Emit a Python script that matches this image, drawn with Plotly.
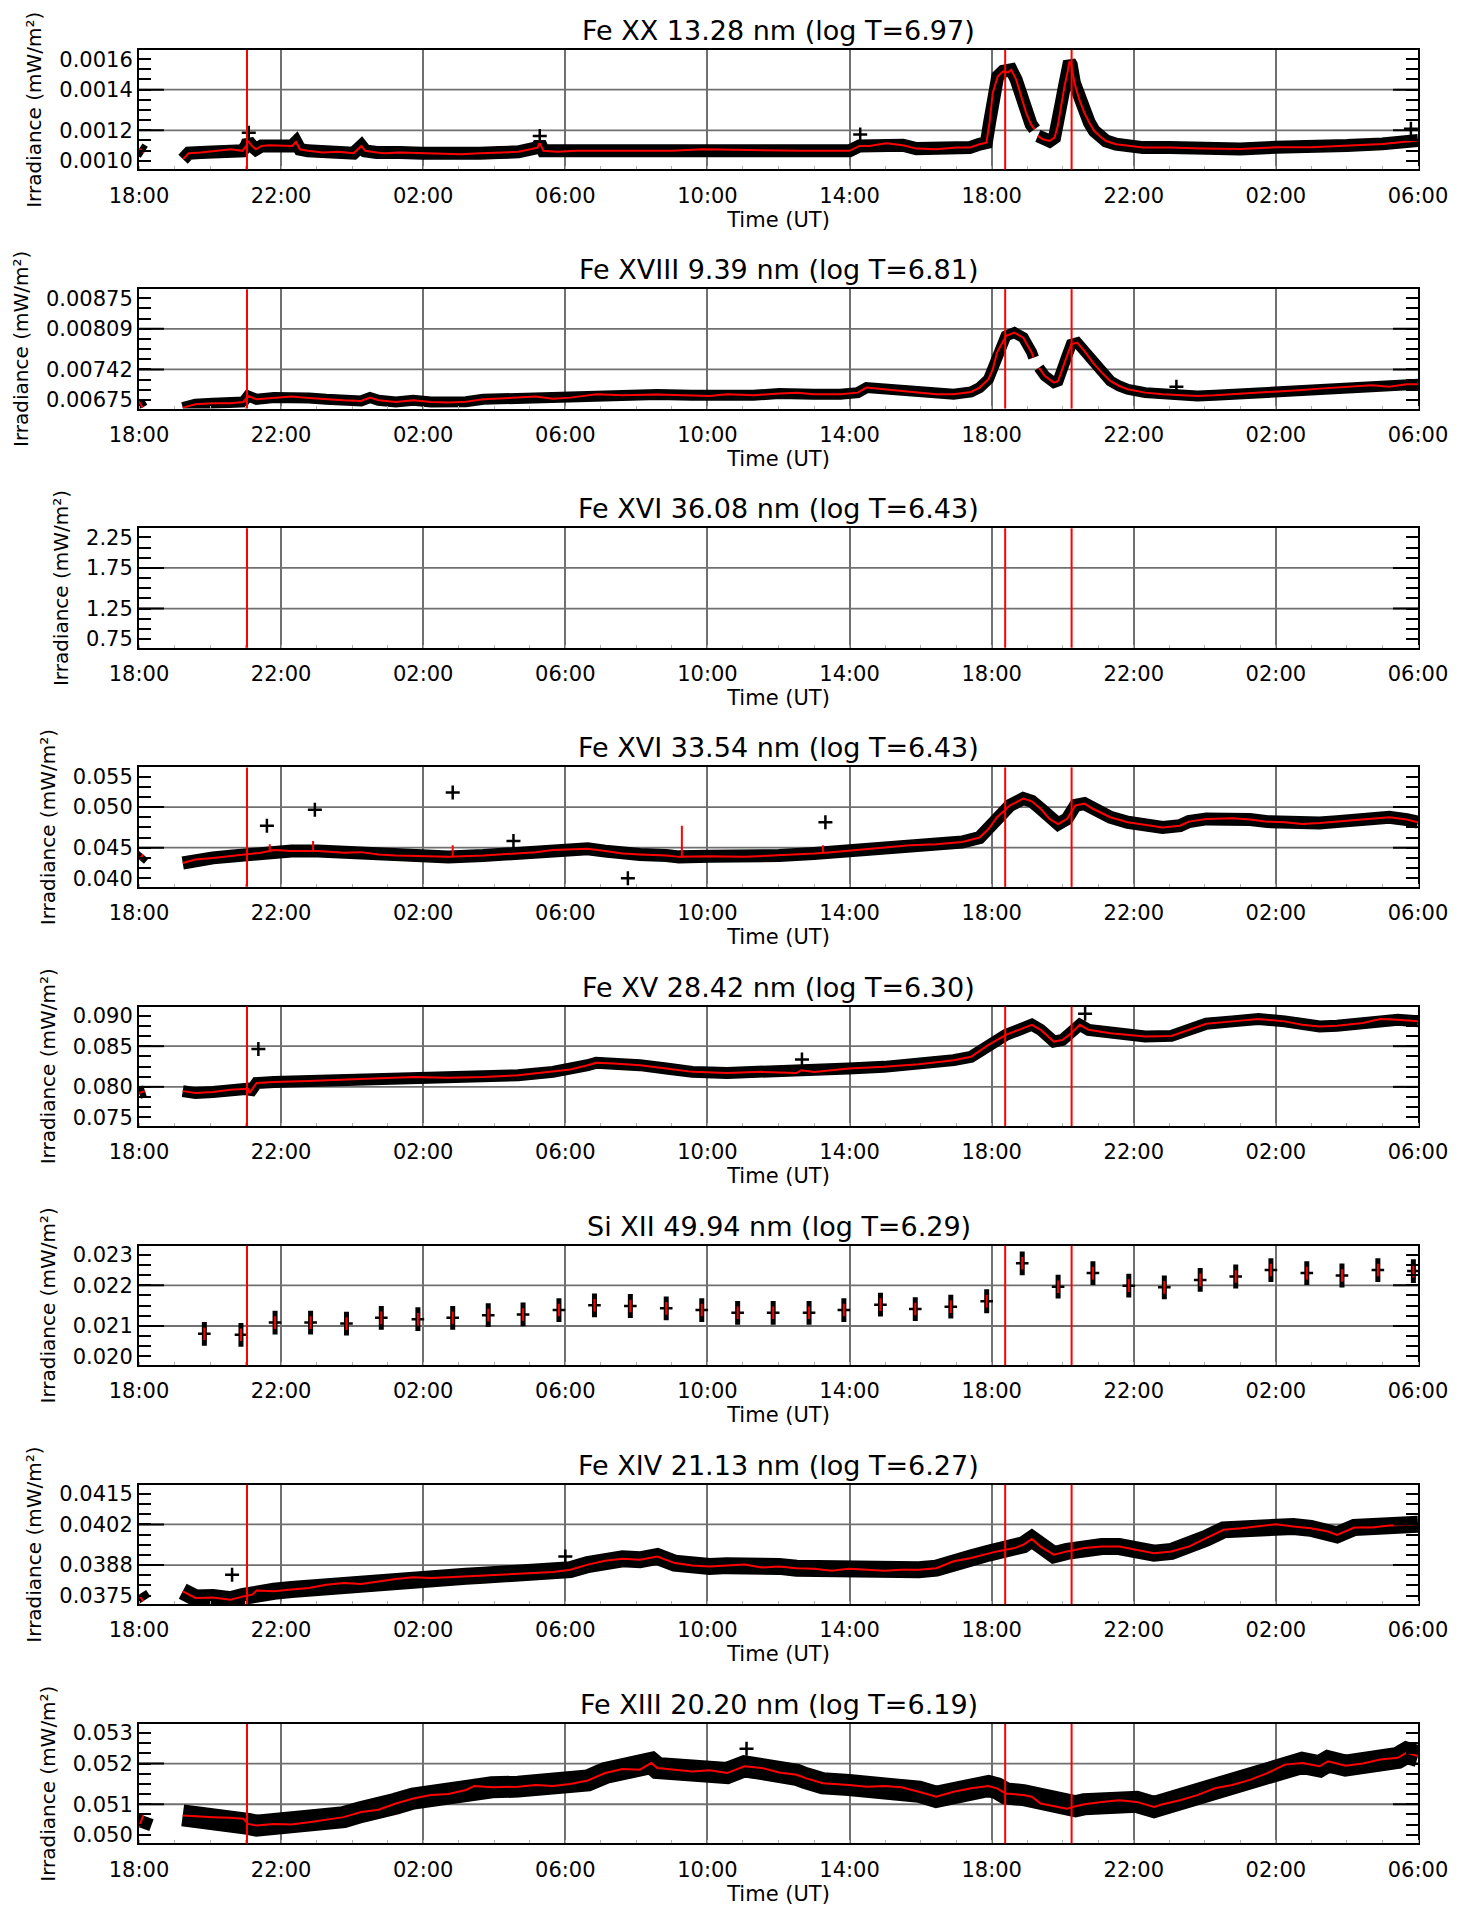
import plotly.graph_objects as go

# ---------------- axis labels / annotations ----------------
time_tickvals = [0, 4, 8, 12, 16, 20, 24, 28, 32, 36]          # hours since 18:00 UT (day 1)
time_ticktext = ["18:00", "22:00", "02:00", "06:00", "10:00",
                 "14:00", "18:00", "22:00", "02:00", "06:00"]
event_times = [3.04, 24.38, 26.25]                              # red vertical markers (hours)

panel_titles = [
    "Fe XX 13.28 nm (log T=6.97)",
    "Fe XVIII 9.39 nm (log T=6.81)",
    "Fe XVI 36.08 nm (log T=6.43)",
    "Fe XVI 33.54 nm (log T=6.43)",
    "Fe XV 28.42 nm (log T=6.30)",
    "Si XII 49.94 nm (log T=6.29)",
    "Fe XIV 21.13 nm (log T=6.27)",
    "Fe XIII 20.20 nm (log T=6.19)",
]
ytick_text = [
    ["0.0010", "0.0012", "0.0014", "0.0016"],
    ["0.00675", "0.00742", "0.00809", "0.00875"],
    ["0.75", "1.25", "1.75", "2.25"],
    ["0.040", "0.045", "0.050", "0.055"],
    ["0.075", "0.080", "0.085", "0.090"],
    ["0.020", "0.021", "0.022", "0.023"],
    ["0.0375", "0.0388", "0.0402", "0.0415"],
    ["0.050", "0.051", "0.052", "0.053"],
]
y_title = "Irradiance (mW/m²)"
x_title = "Time (UT)"

# ---------------- data (hours since 18:00, irradiance mW/m^2) ----------------
# Fe XX 13.28 nm
fexx_t = [0.0, 0.15, None,
          1.24, 1.40, 1.73, 2.16, 2.59, 2.91, 3.02, 3.07, 3.18, 3.29, 3.45, 3.67, 3.99, 4.31, 4.42, 4.53,
          4.75, 5.18, 5.61, 6.04, 6.26, 6.37, 6.69, 6.91, 7.34, 7.98, 8.52, 9.06, 9.60, 10.14, 10.68,
          11.22, 11.28, 11.38, 11.76, 12.30, 13.03, 14.0, 15.0, 15.87, 16.81, 17.75, 18.69, 19.62,
          20.0, 20.28, 20.56, 21.03, 21.5, 21.88, 22.44, 23.0, 23.38, 23.66, 23.85, 23.94, 24.03,
          24.17, 24.32, 24.46, 24.55, 24.69, 24.83, 24.97, 25.11, 25.21, None,
          25.30, 25.44, 25.63, 25.77, 25.86, 25.96, 26.05, 26.14, 26.19, 26.24, 26.33, 26.47, 26.61,
          26.75, 26.89, 27.04, 27.22, 27.50, 27.88, 28.26, 29.01, 29.94, 31.0, 32.0, 33.0, 34.0,
          35.0, 36.0]
fexx_v = [0.00107, 0.00105, None,
          0.00101, 0.001045, 0.001049, 0.001059, 0.001068, 0.001059, 0.001088, 0.001117, 0.001088,
          0.001068, 0.001088, 0.001092, 0.001088, 0.001088, 0.001111, 0.001068, 0.001059, 0.001049,
          0.001053, 0.001045, 0.001088, 0.001059, 0.001049, 0.001045, 0.001049, 0.001045, 0.001039,
          0.001039, 0.001045, 0.001049, 0.001053, 0.001078, 0.001107, 0.001059, 0.001053, 0.001059,
          0.001059, 0.00106, 0.00106, 0.001068, 0.001064, 0.001059, 0.001059, 0.001059, 0.001059,
          0.001088, 0.001088, 0.001104, 0.001092, 0.001072, 0.001068, 0.001078, 0.001078, 0.001098,
          0.001107, 0.001225, 0.001401, 0.001498, 0.001528, 0.001522, 0.001537, 0.001479, 0.001381,
          0.001283, 0.001215, 0.001186, None,
          0.001147, 0.001127, 0.001117, 0.001137, 0.001205, 0.001342, 0.00144, 0.001528, 0.001586,
          0.001567, 0.001459, 0.001361, 0.001283, 0.001225, 0.001176, 0.001147, 0.001117, 0.001098,
          0.001088, 0.001078, 0.001078, 0.001072, 0.00107, 0.00108, 0.00108, 0.00109, 0.00110, 0.00112]
fexx_out_t = [3.09, 11.28, 20.3, 35.8]
fexx_out_v = [0.001166, 0.001147, 0.001156, 0.00119]

# Fe XVIII 9.39 nm
fexviii_t = [0.0, 0.1, None,
             1.23, 1.59, 2.08, 2.57, 2.94, 3.07, 3.31, 3.80, 4.29, 4.78, 5.27, 5.76, 6.25, 6.50, 6.74,
             7.23, 7.72, 8.21, 8.71, 9.20, 9.69, 10.18, 10.67, 11.16, 11.65, 12.14, 12.87, 13.61, 14.59,
             15.57, 16.06, 16.55, 17.29, 18.02, 18.51, 19.00, 19.74, 20.23, 20.48, 20.97, 21.46, 21.95,
             22.44, 22.93, 23.42, 23.66, 23.91, 24.03, 24.15, 24.40, 24.64, 24.89, 25.13, 25.18, None,
             25.33, 25.50, 25.75, 25.87, 26.12, 26.24, 26.41, 26.61, 26.85, 27.10, 27.34, 27.59, 27.83,
             28.32, 28.81, 29.30, 29.79, 30.28, 30.77, 31.27, 31.76, 32.25, 32.74, 33.23, 33.72, 34.21,
             34.70, 35.19, 35.68, 36.0]
fexviii_v = [0.00672, 0.00660, None,
             0.006599, 0.006665, 0.006684, 0.006684, 0.006711, 0.006829, 0.006763, 0.006796, 0.006816,
             0.006789, 0.006763, 0.006743, 0.006730, 0.006796, 0.006743, 0.006711, 0.006743, 0.006711,
             0.006698, 0.006717, 0.006763, 0.006776, 0.006796, 0.006816, 0.006776, 0.006796, 0.006861,
             0.006842, 0.006855, 0.006842, 0.006829, 0.006861, 0.006842, 0.006875, 0.006894, 0.006861,
             0.006861, 0.006894, 0.006993, 0.006960, 0.006927, 0.006894, 0.006861, 0.006861, 0.006907,
             0.006993, 0.007157, 0.007353, 0.007681, 0.008009, 0.008075, 0.007976, 0.007681, 0.007583, None,
             0.007386, 0.007222, 0.007091, 0.007124, 0.007616, 0.007845, 0.007878, 0.007714, 0.007484,
             0.007288, 0.007124, 0.007025, 0.006960, 0.006894, 0.006861, 0.006848, 0.006829, 0.006842,
             0.006861, 0.006894, 0.006907, 0.006927, 0.006947, 0.006973, 0.006993, 0.007025, 0.007039,
             0.007012, 0.007058, 0.007058]
fexviii_out_t = [29.2]
fexviii_out_v = [0.00701]

# Fe XVI 36.08 nm : no data in this interval
fexvi36_t = []
fexvi36_v = []

# Fe XVI 33.54 nm
fexvi33_t = [0.0, 0.12, None,
             1.23, 1.59, 2.08, 2.57, 2.94, 3.43, 3.80, 4.29, 5.03, 5.76, 6.25, 6.74, 7.23, 7.72, 8.21,
             8.71, 9.69, 10.67, 11.16, 11.65, 12.14, 12.63, 13.12, 13.61, 14.10, 14.84, 15.20, 16.06,
             17.04, 18.02, 19.00, 19.49, 20.23, 20.97, 21.70, 22.44, 23.17, 23.66, 23.91, 24.15, 24.52,
             24.89, 25.13, 25.38, 25.63, 25.87, 26.12, 26.36, 26.61, 26.85, 27.34, 27.83, 28.32, 28.81,
             29.30, 29.55, 30.04, 30.77, 31.27, 31.76, 32.25, 32.74, 33.23, 33.72, 34.21, 34.70, 35.19,
             35.68, 36.0]
fexvi33_v = [0.04275, 0.0435, None,
             0.04225, 0.04275, 0.0430, 0.04325, 0.0435, 0.04375, 0.04415, 0.0440, 0.0440, 0.04375,
             0.04385, 0.0435, 0.04335, 0.04325, 0.04325, 0.04315, 0.04335, 0.04365, 0.04385, 0.04415,
             0.04425, 0.04435, 0.0440, 0.04365, 0.0435, 0.04335, 0.04315, 0.04325, 0.04315, 0.04335,
             0.04365, 0.04385, 0.04415, 0.0445, 0.04485, 0.0450, 0.04535, 0.0460, 0.04725, 0.0490,
             0.05075, 0.05175, 0.05135, 0.05025, 0.04875, 0.0480, 0.04875, 0.05075, 0.0510, 0.05025,
             0.0490, 0.04825, 0.04785, 0.0475, 0.04775, 0.04835, 0.04875, 0.04885, 0.04865, 0.04835,
             0.04825, 0.0480, 0.04815, 0.04835, 0.0485, 0.04875, 0.0490, 0.04865, 0.04825]
fexvi33_out_t = [3.6, 4.95, 8.83, 10.54, 13.76, 19.32]
fexvi33_out_v = [0.04775, 0.0501, 0.05265, 0.0455, 0.0400, 0.04825]
fexvi33_spike_t = [3.68, 4.90, 8.83, 15.28, 19.25]
fexvi33_spike_base = [0.04385, 0.0440, 0.04315, 0.04315, 0.04385]
fexvi33_spike_top = [0.0450, 0.0455, 0.04485, 0.04775, 0.04485]

# Fe XV 28.42 nm
fexv_t = [0.0, 0.17, None,
          1.23, 1.59, 2.08, 2.57, 3.07, 3.11, 3.31, 3.80, 4.78, 5.76, 6.74, 7.72, 8.71, 9.69, 10.67,
          11.65, 12.14, 12.63, 12.87, 13.36, 14.10, 14.84, 15.57, 16.55, 17.53, 18.51, 18.64, 19.00,
          19.98, 20.97, 21.95, 22.93, 23.42, 23.91, 24.40, 24.89, 25.13, 25.38, 25.75, 25.99, 26.24,
          26.48, 26.73, 27.34, 28.32, 29.06, 29.55, 30.04, 30.77, 31.51, 32.25, 32.74, 33.23, 33.72,
          34.45, 34.94, 35.43, 36.0]
fexv_v = [0.07858, 0.07887, None,
          0.07887, 0.07858, 0.07873, 0.07907, 0.07922, 0.07858, 0.08007, 0.08022, 0.08036, 0.08056,
          0.08086, 0.08096, 0.08086, 0.08096, 0.08121, 0.08171, 0.08205, 0.0827, 0.08305, 0.08295,
          0.0827, 0.0822, 0.08171, 0.08156, 0.08171, 0.08156, 0.08195, 0.08171, 0.0822, 0.08245,
          0.08285, 0.08344, 0.08394, 0.08568, 0.08717, 0.08816, 0.08866, 0.08791, 0.08618, 0.08642,
          0.08742, 0.08866, 0.08791, 0.08742, 0.08692, 0.08702, 0.08791, 0.08881, 0.08916, 0.0895,
          0.08916, 0.08866, 0.08841, 0.08851, 0.08891, 0.0895, 0.0894, 0.08916]
fexv_out_t = [3.36, 18.66, 26.63]
fexv_out_v = [0.08508, 0.08354, 0.0903]

# Si XII 49.94 nm (hourly samples)
sixii_t = [1.84, 2.87, 3.83, 4.83, 5.84, 6.82, 7.85, 8.83, 9.83, 10.81, 11.82, 12.82, 13.83, 14.84,
           15.84, 16.85, 17.85, 18.86, 19.84, 20.87, 21.85, 22.85, 23.86, 24.86, 25.87, 26.85, 27.86,
           28.86, 29.87, 30.87, 31.86, 32.87, 33.86, 34.87, 35.87]
sixii_v = [0.02067, 0.02064, 0.02100, 0.02100, 0.02097, 0.02114, 0.02110, 0.02114, 0.02122, 0.02124,
           0.02137, 0.02151, 0.02149, 0.02142, 0.02137, 0.02129, 0.02129, 0.02129, 0.02137, 0.02153,
           0.02140, 0.02147, 0.02163, 0.02275, 0.02206, 0.02246, 0.02209, 0.02204, 0.02226, 0.02236,
           0.02255, 0.02246, 0.02239, 0.02255, 0.02252]

# Fe XIV 21.13 nm
fexiv_t = [0.0, 0.12, None,
           1.23, 1.59, 2.08, 2.57, 2.94, 3.19, 3.31, 3.80, 4.29, 4.78, 5.27, 5.76, 6.25, 6.74, 7.23,
           7.72, 8.21, 8.71, 9.20, 9.69, 10.18, 10.67, 11.16, 11.65, 12.14, 12.63, 13.12, 13.61, 14.10,
           14.59, 15.08, 15.57, 16.06, 16.55, 17.04, 17.53, 18.02, 18.51, 19.00, 19.49, 19.98, 20.48,
           20.97, 21.46, 21.95, 22.44, 22.93, 23.42, 23.91, 24.15, 24.64, 24.89, 25.13, 25.38, 25.75,
           26.12, 26.61, 27.10, 27.59, 28.08, 28.57, 29.06, 29.55, 30.04, 30.53, 31.02, 31.51, 32.00,
           32.49, 32.98, 33.47, 33.72, 34.21, 34.70, 35.19, 35.68, 36.0]
fexiv_v = [0.03754, 0.03728, None,
           0.03767, 0.03741, 0.03743, 0.03734, 0.03747, 0.03754, 0.0377, 0.03767, 0.03774, 0.0378,
           0.03793, 0.0380, 0.03796, 0.03806, 0.03815, 0.03822, 0.03819, 0.03822, 0.03826, 0.0383,
           0.03832, 0.03835, 0.03839, 0.03843, 0.03852, 0.03872, 0.03887, 0.03895, 0.03891, 0.03904,
           0.03878, 0.03869, 0.03865, 0.03868, 0.03872, 0.03861, 0.03865, 0.03858, 0.03856, 0.03848,
           0.03856, 0.03852, 0.03848, 0.03852, 0.03852, 0.03858, 0.03885, 0.03898, 0.03917, 0.03924,
           0.03937, 0.0395, 0.03973, 0.03943, 0.03911, 0.03924, 0.03937, 0.03943, 0.03943, 0.0393,
           0.03917, 0.03924, 0.03943, 0.03976, 0.04009, 0.04015, 0.04022, 0.04031, 0.04022, 0.04015,
           0.04002, 0.03989, 0.04018, 0.04018, 0.04026, 0.04028, 0.04031]
fexiv_out_t = [2.62, 12.0]
fexiv_out_v = [0.03832, 0.03904]

# Fe XIII 20.20 nm
fexiii_t = [0.0, 0.12, None,
            1.23, 1.59, 2.08, 2.57, 2.94, 3.07, 3.31, 3.80, 4.29, 4.78, 5.27, 5.76, 6.25, 6.74, 7.23,
            7.72, 8.21, 8.71, 9.20, 9.44, 9.93, 10.67, 11.16, 11.65, 12.14, 12.63, 13.12, 13.61, 14.10,
            14.42, 14.59, 15.08, 15.57, 16.06, 16.55, 17.04, 17.53, 18.02, 18.51, 18.76, 19.25, 19.98,
            20.48, 20.97, 21.46, 21.95, 22.44, 22.93, 23.42, 23.91, 24.15, 24.40, 24.89, 25.13, 25.38,
            25.87, 26.12, 26.36, 26.61, 27.10, 27.59, 28.08, 28.57, 28.81, 29.30, 29.79, 30.28, 30.77,
            31.27, 31.76, 32.25, 32.74, 33.23, 33.47, 33.96, 34.45, 34.94, 35.43, 35.68, 36.0]
fexiii_v = [0.05022, 0.05057, None,
            0.05057, 0.05054, 0.05052, 0.0505, 0.05047, 0.05032, 0.05027, 0.05032, 0.0503, 0.05037,
            0.05044, 0.05052, 0.05067, 0.05074, 0.05092, 0.05107, 0.05117, 0.0512, 0.05132, 0.05144,
            0.0514, 0.05142, 0.05147, 0.05144, 0.0515, 0.0516, 0.05182, 0.05194, 0.05192, 0.05212,
            0.05197, 0.05192, 0.05187, 0.0519, 0.05182, 0.05202, 0.05197, 0.05184, 0.05177, 0.05167,
            0.05152, 0.05147, 0.05142, 0.05144, 0.0514, 0.05127, 0.05112, 0.05127, 0.05137, 0.05144,
            0.05137, 0.05122, 0.05117, 0.05112, 0.05092, 0.05082, 0.05077, 0.05084, 0.0509, 0.05097,
            0.05102, 0.05097, 0.05082, 0.0509, 0.05102, 0.05117, 0.05137, 0.05147, 0.05162, 0.05182,
            0.05207, 0.05212, 0.05202, 0.05217, 0.05204, 0.0521, 0.05222, 0.05227, 0.05242, 0.05232]
fexiii_out_t = [17.1]
fexiii_out_v = [0.05254]

series = [
    (fexx_t, fexx_v, fexx_out_t, fexx_out_v),
    (fexviii_t, fexviii_v, fexviii_out_t, fexviii_out_v),
    (fexvi36_t, fexvi36_v, [], []),
    (fexvi33_t, fexvi33_v, fexvi33_out_t, fexvi33_out_v),
    (fexv_t, fexv_v, fexv_out_t, fexv_out_v),
    (None, None, [], []),
    (fexiv_t, fexiv_v, fexiv_out_t, fexiv_out_v),
    (fexiii_t, fexiii_v, fexiii_out_t, fexiii_out_v),
]
band_width = [13, 11, 0, 13, 12, 0, 17, 22]

# ---------------- layout geometry ----------------
W, Hfig = 1461, 1912
ML, MR, MT, MB = 139, 43, 50, 60
PH = Hfig - MT - MB
PITCH, PANEL_H = 240.2, 120.0
FONT = "DejaVu Sans"
GRID = "#707070"
tick_frac = [0.0, 0.3, 0.7, 1.0]

fig = go.Figure()
layout = dict(
    width=W, height=Hfig, margin=dict(l=ML, r=MR, t=MT, b=MB),
    paper_bgcolor="white", plot_bgcolor="white", showlegend=False,
    font=dict(family=FONT, color="black"),
)
shapes, annotations = [], []

for i in range(8):
    n = "" if i == 0 else str(i + 1)
    xa, ya = "x" + n, "y" + n
    lo, hi = float(ytick_text[i][0]), float(ytick_text[i][-1])
    span = hi - lo
    tickvals = [lo + f * span for f in tick_frac]
    top = 1 - (i * PITCH) / PH
    bot = 1 - (i * PITCH + PANEL_H) / PH

    layout["xaxis" + n] = dict(
        domain=[0, 1], anchor=ya, range=[0, 36],
        tickmode="array", tickvals=time_tickvals, ticktext=time_ticktext,
        ticks="", showgrid=True, gridcolor=GRID, gridwidth=1.8, zeroline=False,
        showline=True, linecolor="black", linewidth=2, mirror=True,
        tickfont=dict(size=21), ticklabelstandoff=6,
        minor=dict(dtick=1, tick0=0, ticks="inside", ticklen=3, tickcolor="#b0b0b0", tickwidth=1,
                   showgrid=False),
        title=dict(text=x_title, font=dict(size=21), standoff=4),
    )
    layout["yaxis" + n] = dict(
        domain=[bot, top], anchor=xa,
        range=[lo - 0.085 * span, hi + 0.09 * span],
        tickmode="array", tickvals=tickvals, ticktext=ytick_text[i],
        ticks="inside", ticklen=12, tickwidth=2, tickcolor="black",
        showgrid=False, zeroline=False,
        showline=True, linecolor="black", linewidth=2, mirror="ticks",
        tickfont=dict(size=21),
        minor=dict(tickmode="linear", tick0=lo, dtick=span / 10, ticks="inside", ticklen=12,
                   tickwidth=2, tickcolor="black", showgrid=False),
        title=dict(text=y_title, font=dict(size=20), standoff=12),
    )
    # horizontal grid at the two inner labelled ticks + longer black inner ticks
    for tv in tickvals[1:3]:
        shapes.append(dict(type="line", xref=xa + " domain", yref=ya, x0=0, x1=1, y0=tv, y1=tv,
                           line=dict(color=GRID, width=1.8), layer="below"))
        for x0, x1 in ((0, 25 / 1279), (1 - 25 / 1279, 1)):
            shapes.append(dict(type="line", xref=xa + " domain", yref=ya, x0=x0, x1=x1, y0=tv, y1=tv,
                               line=dict(color="black", width=2), layer="above"))
    for et in event_times:
        shapes.append(dict(type="line", xref=xa, yref=ya + " domain", x0=et, x1=et, y0=0, y1=1,
                           line=dict(color="red", width=2), layer="above"))
    annotations.append(dict(text=panel_titles[i], xref=xa + " domain", yref=ya + " domain",
                            x=0.5, y=1, xanchor="center", yanchor="bottom", yshift=2,
                            showarrow=False, font=dict(size=27, family=FONT, color="black")))

    t, v, ot, ov = series[i]
    if i == 5:
        fig.add_trace(go.Scatter(x=sixii_t, y=sixii_v, mode="markers", xaxis=xa, yaxis=ya,
                                 marker=dict(symbol="line-ns", size=17, color="black",
                                             line=dict(color="black", width=5))))
        fig.add_trace(go.Scatter(x=sixii_t, y=sixii_v, mode="markers", xaxis=xa, yaxis=ya,
                                 marker=dict(symbol="cross-thin", size=9, color="black",
                                             line=dict(color="black", width=2.5))))
        fig.add_trace(go.Scatter(x=sixii_t, y=sixii_v, mode="markers", xaxis=xa, yaxis=ya,
                                 marker=dict(symbol="line-ns", size=9, color="red",
                                             line=dict(color="red", width=2))))
        continue
    if t:
        fig.add_trace(go.Scatter(x=t, y=v, mode="lines", xaxis=xa, yaxis=ya,
                                 line=dict(color="black", width=band_width[i]), connectgaps=False))
        fig.add_trace(go.Scatter(x=t, y=v, mode="lines", xaxis=xa, yaxis=ya,
                                 line=dict(color="red", width=2), connectgaps=False))
    if ot:
        fig.add_trace(go.Scatter(x=ot, y=ov, mode="markers", xaxis=xa, yaxis=ya,
                                 marker=dict(symbol="cross-thin", size=10, color="black",
                                             line=dict(color="black", width=2.5))))
    if i == 3:
        sx, sy = [], []
        for st, sb, sp in zip(fexvi33_spike_t, fexvi33_spike_base, fexvi33_spike_top):
            sx += [st, st, None]
            sy += [sb, sp, None]
        fig.add_trace(go.Scatter(x=sx, y=sy, mode="lines", xaxis=xa, yaxis=ya,
                                 line=dict(color="red", width=2)))

layout["shapes"] = shapes
layout["annotations"] = annotations
fig.update_layout(**layout)
fig.write_html("out.html", config={"displayModeBar": False},
               post_script="document.body.style.margin='0';")
